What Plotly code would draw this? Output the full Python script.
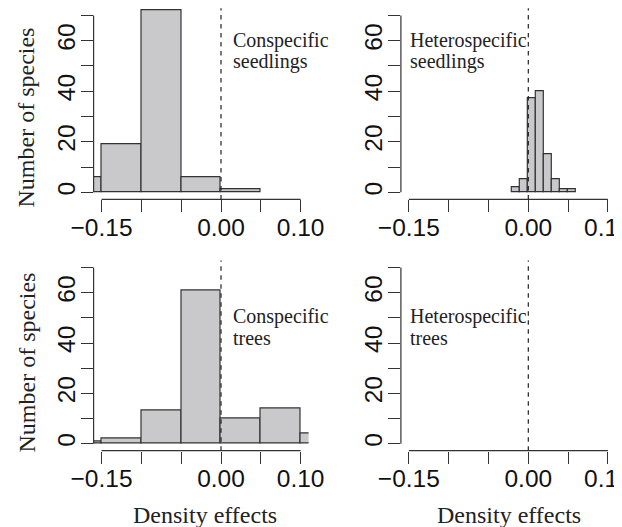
import plotly.graph_objects as go

# ---- data ----
bin_w_wide = 0.05
bin_w_narrow = 0.01
cs_left = [-0.20, -0.15, -0.10, -0.05, 0.00]          # conspecific seedlings
cs_count = [6, 19, 72, 6, 1]
hs_left = [-0.02, -0.01, 0.00, 0.01, 0.02, 0.03, 0.04, 0.05]   # heterospecific seedlings
hs_count = [2, 5, 37, 40, 15, 5, 1, 1]
ct_left = [-0.20, -0.15, -0.10, -0.05, 0.00, 0.05, 0.10]       # conspecific trees
ct_count = [1, 2, 13, 61, 10, 14, 4]
ht_left = []                                                   # heterospecific trees
ht_count = []

x_ticks = [-0.15, -0.10, -0.05, 0.00, 0.05, 0.10]
x_ticktext = ["\u22120.15", "", "", "0.00", "", "0.10"]
y_ticks = [0, 10, 20, 30, 40, 50, 60, 70]
y_ticktext = ["0", "", "20", "", "40", "", "60", ""]

panel_labels = [("Conspecific", "seedlings"), ("Heterospecific", "seedlings"),
                ("Conspecific", "trees"), ("Heterospecific", "trees")]
label_x = [0.012, -0.151, 0.012, -0.151]
label_y1 = [60, 60, 50.5, 50.5]
label_y2 = [51.6, 51.6, 42.1, 42.1]

W, H = 622, 527
OFF = 8  # page body margin of the html page
FILL = "#c9c9cb"
EDGE = "#333333"
SANS = "Liberation Sans, Arial, sans-serif"
SERIF = "Liberation Serif, Times New Roman, serif"


def px(x):
    return (x - OFF) / W


def py(y):
    return 1 - (y - OFF) / H


fig = go.Figure()

panels = [
    (cs_left, cs_count, bin_w_wide),
    (hs_left, hs_count, bin_w_narrow),
    (ct_left, ct_count, bin_w_wide),
    (ht_left, ht_count, bin_w_wide),
]

xdom = [[px(93.6), px(308.6)], [px(400.9), px(615.9)]]
ydom = [[py(199.4), py(8.3)], [py(450.7), py(260.5)]]

for i, (lefts, counts, w) in enumerate(panels):
    k = i + 1
    xa = "x" if k == 1 else f"x{k}"
    ya = "y" if k == 1 else f"y{k}"
    fig.add_trace(go.Bar(
        x=lefts, y=counts, width=[w] * len(lefts), offset=0,
        marker=dict(color=FILL, line=dict(color=EDGE, width=1.2)),
        xaxis=xa, yaxis=ya, showlegend=False, hoverinfo="skip"))
    row, col = divmod(i, 2)
    ax_common = dict(showgrid=False, zeroline=False, showline=False,
                     automargin=False, ticklabeloverflow="allow",
                     ticks="outside", ticklen=12, tickwidth=1, tickcolor=EDGE,
                     tickfont=dict(family=SANS, size=24.5, color="#111"))
    fig.layout[f"xaxis{'' if k == 1 else k}"] = dict(
        domain=xdom[col], range=[-0.16, 0.11], anchor=ya,
        tickmode="array", tickvals=x_ticks, ticktext=x_ticktext,
        ticklabelstandoff=-6, **ax_common)
    fig.layout[f"yaxis{'' if k == 1 else k}"] = dict(
        domain=ydom[row], range=[-2.8, 72.8], anchor=xa,
        tickmode="array", tickvals=y_ticks, ticktext=y_ticktext,
        tickangle=-90, ticklabelstandoff=-4, **ax_common)
    # R-style detached axis lines
    fig.add_shape(type="line", xref=xa, yref=f"{ya} domain",
                  x0=x_ticks[0], x1=x_ticks[-1], y0=0, y1=0,
                  line=dict(color=EDGE, width=1.2))
    fig.add_shape(type="line", xref=f"{xa} domain", yref=ya,
                  x0=0, x1=0, y0=y_ticks[0], y1=y_ticks[-1],
                  line=dict(color=EDGE, width=1.2))
    # dashed reference line at zero
    fig.add_shape(type="line", xref=xa, yref=f"{ya} domain",
                  x0=0, x1=0, y0=0, y1=1,
                  line=dict(color="#222", width=1.2, dash="4.5px,4.5px"))
    l1, l2 = panel_labels[i]
    for txt, yy in ((l1, label_y1[i]), (l2, label_y2[i])):
        fig.add_annotation(x=label_x[i], y=yy, xref=xa, yref=ya, text=txt,
                           showarrow=False, xanchor="left", yanchor="middle",
                           font=dict(family=SERIF, size=20, color="#222"))

for yc in (py(117.5), py(362.5)):
    fig.add_annotation(x=px(26), y=yc, xref="paper", yref="paper",
                       text="Number of species", textangle=-90, showarrow=False,
                       xanchor="center", yanchor="middle",
                       font=dict(family=SERIF, size=24, color="#222"))
for xc in (px(204.7), px(509.2)):
    fig.add_annotation(x=xc, y=py(514.7), xref="paper", yref="paper",
                       text="Density effects", showarrow=False,
                       xanchor="center", yanchor="middle",
                       font=dict(family=SERIF, size=24, color="#222"))

fig.update_layout(width=W, height=H, autosize=False,
                  margin=dict(l=0, r=0, t=0, b=0, autoexpand=False),
                  paper_bgcolor="white", plot_bgcolor="white", bargap=0)

fig.write_html("out.html")
